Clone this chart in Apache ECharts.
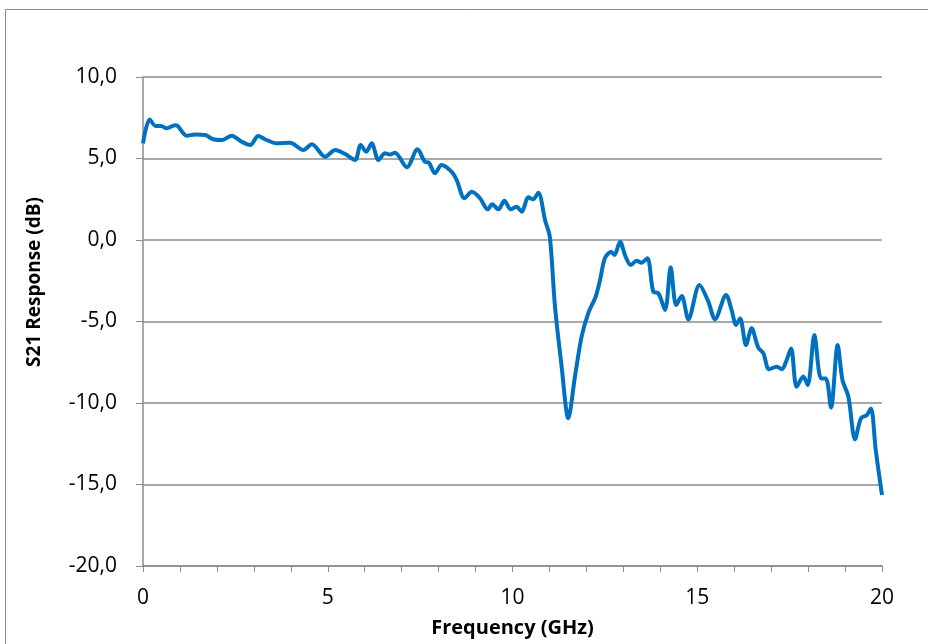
<!DOCTYPE html>
<html>
<head>
<meta charset="utf-8">
<script src="https://cdn.jsdelivr.net/npm/echarts@6/dist/echarts.min.js"></script>
<style>
  html, body { margin: 0; padding: 0; background: #fff; }
  #chart { width: 928px; height: 644px; }
</style>
</head>
<body>
<div id="chart"></div>
<script>
const freq = [
  0, 0.18, 0.34, 0.49, 0.64, 0.87, 0.94, 1.18, 1.41, 1.68, 1.9, 2.13, 2.4, 2.67, 2.9,
  3.12, 3.3, 3.62, 3.98, 4.34, 4.57, 4.93, 5.2, 5.47, 5.74, 5.89, 6.04, 6.19, 6.37,
  6.55, 6.68, 6.82, 7.14, 7.43, 7.63, 7.74, 7.9, 8.08, 8.35, 8.49, 8.7, 8.9, 9.12,
  9.33, 9.45, 9.62, 9.78, 9.95, 10.11, 10.25, 10.43, 10.56, 10.7, 10.88, 11.01, 11.15,
  11.33, 11.51, 11.69, 11.87, 12.05, 12.25, 12.37, 12.5, 12.67, 12.76, 12.91, 13.06,
  13.2, 13.36, 13.49, 13.65, 13.81, 13.95, 14.13, 14.28, 14.43, 14.58, 14.76, 15.06,
  15.3, 15.48, 15.78, 15.93, 16.05, 16.16, 16.32, 16.47, 16.65, 16.79, 16.94, 17.15,
  17.29, 17.42, 17.54, 17.69, 17.87, 17.99, 18.17, 18.35, 18.48, 18.62, 18.8, 18.93,
  19.09, 19.27, 19.43, 19.59, 19.7, 19.83, 20
];
const s21 = [
  5.93, 7.4, 7.0, 7.0, 6.85, 7.04, 7.0, 6.4, 6.48, 6.44, 6.18, 6.13, 6.4, 6.03, 5.83,
  6.38, 6.18, 5.93, 5.97, 5.52, 5.87, 5.11, 5.52, 5.28, 4.91, 5.83, 5.42, 5.93, 4.91,
  5.32, 5.24, 5.36, 4.46, 5.56, 4.8, 4.74, 4.09, 4.6, 4.19, 3.68, 2.56, 2.96, 2.56,
  1.88, 2.2, 1.88, 2.41, 1.88, 2.04, 1.74, 2.62, 2.5, 2.9, 1.23, 0.2, -4.09,
  -7.77, -10.94, -8.38, -5.93, -4.5, -3.48, -2.45, -1.12, -0.72, -0.92, -0.1, -1.02,
  -1.53, -1.27, -1.39, -1.12, -3.17, -3.27, -4.29, -1.67, -3.99, -3.44, -4.87, -2.76,
  -3.78, -4.87, -3.37, -4.29, -5.21, -4.81, -6.44, -5.42, -6.6, -6.95, -7.93, -7.77,
  -7.93, -7.36, -6.65, -9.0, -8.38, -8.9, -5.83, -8.49, -8.49, -10.27, -6.44, -8.59,
  -9.61, -12.23, -10.94, -10.74, -10.33, -12.88, -15.64
];

const chart = echarts.init(document.getElementById('chart'));

const data = freq.map((f, i) => [f, s21[i]]);
const axisGray = '#8c8c8c';
const fontFamily = 'Open Sans, Liberation Sans, sans-serif';

const option = {
  animation: false,
  backgroundColor: '#fff',
  graphic: [
    {
      // outer chart border
      type: 'rect',
      shape: { x: 5.5, y: 9.5, width: 960, height: 700 },
      style: { fill: 'none', stroke: '#8c8c8c', lineWidth: 1 },
      silent: true,
      z: 0
    },
    {
      // y axis title sits a bit above the plot middle, like in Excel
      type: 'text',
      x: 35,
      y: 282,
      rotation: Math.PI / 2,
      style: {
        text: 'S21 Response (dB)',
        font: 'bold 19px ' + fontFamily,
        fill: '#000',
        align: 'center',
        verticalAlign: 'middle'
      }
    }
  ],
  grid: { left: 143, right: 46, top: 77, bottom: 78 },
  xAxis: {
    type: 'value',
    min: 0,
    max: 20,
    interval: 5,
    name: 'Frequency (GHz)',
    nameLocation: 'middle',
    nameGap: 52,
    nameTextStyle: { fontSize: 20, fontWeight: 'bold', color: '#000', fontFamily },
    axisLine: { show: true, onZero: false, lineStyle: { color: axisGray, width: 1.5 } },
    axisTick: { show: true, length: 6, lineStyle: { color: axisGray } },
    minorTick: { show: true, splitNumber: 5, length: 6, lineStyle: { color: axisGray } },
    axisLabel: { fontSize: 21, color: '#000', margin: 22, fontFamily },
    splitLine: { show: false }
  },
  yAxis: {
    type: 'value',
    min: -20,
    max: 10,
    interval: 5,
    axisLine: { show: true, lineStyle: { color: axisGray, width: 1.5 } },
    axisTick: { show: true, length: 7, lineStyle: { color: axisGray } },
    axisLabel: {
      fontSize: 21,
      color: '#000',
      margin: 26,
      fontFamily,
      formatter: (v) => v.toFixed(1).replace('.', ',')
    },
    splitLine: { show: true, lineStyle: { color: axisGray, width: 1.5 } }
  },
  series: [
    {
      type: 'line',
      data,
      smooth: 0.3,
      showSymbol: false,
      lineStyle: { color: '#0070C0', width: 4 },
      z: 3
    }
  ]
};

chart.setOption(option);
</script>
</body>
</html>
